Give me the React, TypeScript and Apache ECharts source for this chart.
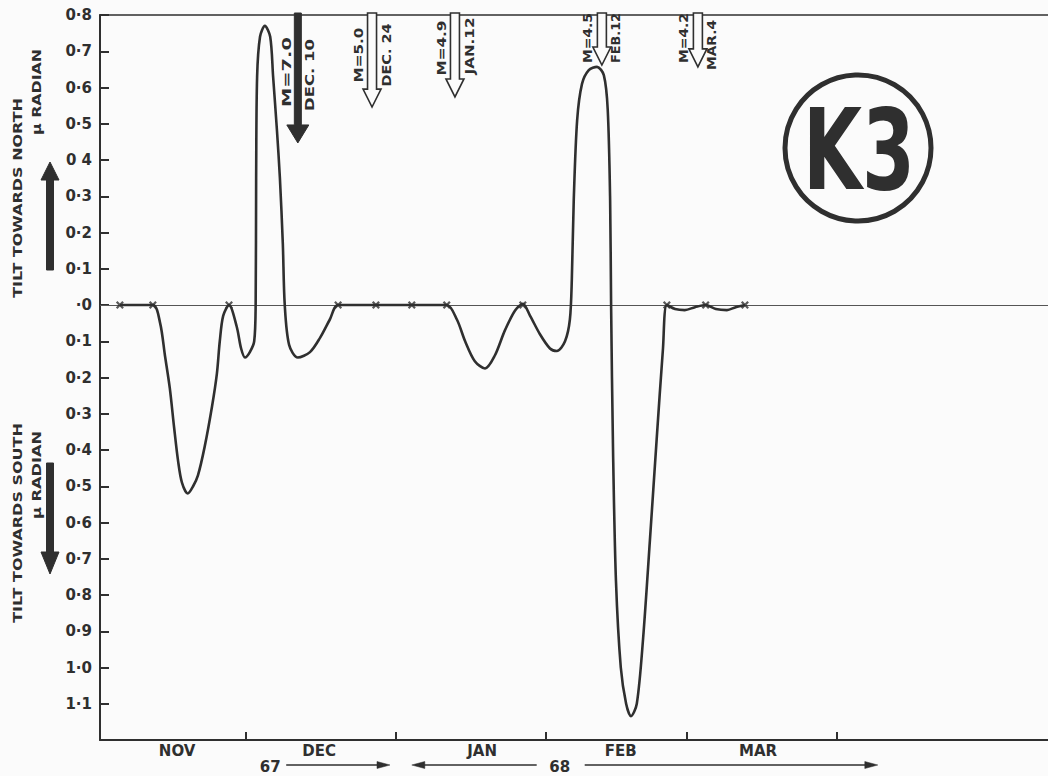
import React, { useEffect, useRef } from "react";
import * as echarts from "echarts";

// ---------- data (x in days since 1 Nov 1967, y in micro-radian; + north, - south) ----------
const X_MAX_DAYS = 195.5;
const monthTickDays = [30, 61, 92, 121, 152];
const monthLabels = ["NOV", "DEC", "JAN", "FEB", "MAR"];
const monthLabelDays = [15.9, 45.2, 78.8, 107.4, 135.7];
const yTickLabels = [
  "0·8", "0·7", "0·6", "0·5", "0 4", "0·3", "0·2", "0·1", "·0",
  "0·1", "0·2", "0·3", "0·4", "0·5", "0·6", "0·7", "0·8", "0·9", "1·0", "1·1", "",
];

const curveDays = [
  4.1, 10.9, 12.4, 13.4, 14.4, 15.3, 16.1, 16.9, 18.1, 19.2, 20.2, 21.6, 23.1, 24.1, 24.7, 25.4,
  26.6, 28.2, 29.1, 29.9, 30.9, 31.8, 32.1, 32.2, 32.4, 33.0, 34.0, 35.1, 35.7, 36.5, 37.1, 37.7,
  38.1, 39.0, 40.8, 43.3, 45.4, 47.4, 49.1, 56.9, 64.3, 71.5, 73.6, 75.3, 77.3, 79.4, 81.4, 83.5,
  85.6, 87.2, 88.7, 90.7, 92.8, 94.2, 95.9, 96.9, 97.3, 97.7, 98.4, 99.4, 100.8, 102.5, 103.9,
  104.7, 105.2, 105.4, 105.8, 106.4, 107.4, 108.5, 109.5, 110.7, 112.0, 113.4, 114.8, 116.1,
  116.9, 118.6, 120.6, 122.7, 124.9, 127.0, 129.3, 131.1, 133.0,
];
const curveValues = [
  0, 0, -0.05, -0.14, -0.23, -0.34, -0.43, -0.49, -0.52, -0.5, -0.47, -0.39, -0.28, -0.19, -0.1, -0.03,
  0, -0.06, -0.12, -0.145, -0.13, -0.1, 0, 0.35, 0.63, 0.74, 0.77, 0.74, 0.63, 0.48, 0.35, 0.17,
  0, -0.11, -0.145, -0.13, -0.09, -0.04, 0, 0, 0, 0, -0.04, -0.1, -0.155, -0.175, -0.14, -0.07,
  -0.015, 0.003, -0.03, -0.08, -0.12, -0.127, -0.1, -0.04, 0.07, 0.29, 0.51, 0.61, 0.648, 0.657, 0.634,
  0.54, 0.29, 0, -0.4, -0.76, -1.0, -1.1, -1.134, -1.1, -0.92, -0.65, -0.37,
  -0.12, 0, -0.011, -0.014, -0.006, 0, -0.011, -0.014, -0.006, 0,
];
const zeroMarkDays = [4.1, 10.9, 26.6, 49.1, 56.9, 64.3, 71.5, 87.2, 116.9, 124.9, 133.0];

const quakeDays = [40.8, 56.1, 73.2, 103.5, 123.3];
const quakeMagnitudes = ["M=7.0", "M=5.0", "M=4.9", "M=4.5", "M=4.2"];
const quakeDates = ["DEC. 10", "DEC. 24", "JAN.12", "FEB.12", "MAR.4"];
const quakeTipValues = [0.447, 0.546, 0.574, 0.662, 0.657];

const yearLabels = ["67", "68"];
const yearLabelDays = [35.1, 94.8];

// ---------- styling / layout ----------
const FONT = '"DejaVu Sans", sans-serif';
const INK = "#2f2f2f";
const PAPER = "#fbfbfb";

function textWidth(text: string, size: number): number {
  const ctx = document.createElement("canvas").getContext("2d");
  if (!ctx) return text.length * size * 0.65;
  ctx.font = `bold ${size}px "DejaVu Sans"`;
  return ctx.measureText(text).width || text.length * size * 0.65;
}

function vText(text: string, cx: number, cy: number, size: number, length: number) {
  const w = textWidth(text, size);
  return {
    type: "text",
    x: cx,
    y: cy,
    rotation: Math.PI / 2,
    scaleX: length / w,
    z: 20,
    style: { text, fontSize: size, fontWeight: "bold", fontFamily: FONT, fill: INK, align: "center", verticalAlign: "middle" },
  };
}

function hText(text: string, cx: number, cy: number, size: number) {
  return {
    type: "text",
    x: cx,
    y: cy,
    z: 20,
    style: { text, fontSize: size, fontWeight: "bold", fontFamily: FONT, fill: INK, align: "center", verticalAlign: "middle" },
  };
}

function vArrow(x: number, tail: number, tip: number, shaftHalf: number, headHalf: number, headLen: number, filled: boolean) {
  const dir = tip > tail ? 1 : -1;
  const hb = tip - dir * headLen;
  return {
    type: "polygon",
    z: 15,
    shape: {
      points: [
        [x - shaftHalf, tail], [x + shaftHalf, tail], [x + shaftHalf, hb], [x + headHalf, hb],
        [x, tip], [x - headHalf, hb], [x - shaftHalf, hb],
      ],
    },
    style: filled ? { fill: INK, stroke: INK, lineWidth: 1 } : { fill: PAPER, stroke: INK, lineWidth: 1.6 },
  };
}

function hArrow(x1: number, x2: number, y: number) {
  const dir = x2 > x1 ? 1 : -1;
  return [
    { type: "line", z: 15, shape: { x1, y1: y, x2: x2 - dir * 10, y2: y }, style: { stroke: INK, lineWidth: 1.6 } },
    {
      type: "polygon",
      z: 15,
      shape: { points: [[x2, y], [x2 - dir * 13, y - 3.5], [x2 - dir * 13, y + 3.5]] },
      style: { fill: INK, stroke: INK, lineWidth: 0.5 },
    },
  ];
}

const CROSS = "path://M2,0 L5,3 L8,0 L10,2 L7,5 L10,8 L8,10 L5,7 L2,10 L0,8 L3,5 L0,2 Z";

export default function App() {
  const ref = useRef<HTMLDivElement>(null);

  useEffect(() => {
    if (!ref.current) return;
    const chart = echarts.init(ref.current, null, { renderer: "svg" });

    chart.setOption({
      animation: false,
      backgroundColor: PAPER,
      grid: { left: 100, right: 0, top: 15, bottom: 36, containLabel: false },
      xAxis: [
        {
          type: "value",
          min: 0,
          max: X_MAX_DAYS,
          position: "bottom",
          splitLine: { show: false },
          axisLine: { show: true, onZero: false, lineStyle: { color: INK, width: 2 } },
          axisTick: { show: true, inside: true, length: 8, customValues: monthTickDays, lineStyle: { color: INK, width: 2 } },
          axisLabel: {
            show: true,
            customValues: monthLabelDays,
            formatter: (v: number) => {
              const i = monthLabelDays.findIndex((d) => Math.abs(d - v) < 1e-6);
              return i >= 0 ? monthLabels[i] : "";
            },
            color: INK,
            fontFamily: FONT,
            fontWeight: "bold",
            fontSize: 15,
            margin: 3,
          },
        },
        {
          type: "value",
          min: 0,
          max: X_MAX_DAYS,
          position: "top",
          splitLine: { show: false },
          axisLine: { show: true, onZero: false, lineStyle: { color: INK, width: 1.6 } },
          axisTick: { show: false },
          axisLabel: { show: false },
        },
      ],
      yAxis: {
        type: "value",
        min: -1.2,
        max: 0.8,
        interval: 0.1,
        splitLine: { show: false },
        axisLine: { show: true, lineStyle: { color: INK, width: 2 } },
        axisTick: { show: true, inside: true, length: 9, lineStyle: { color: INK, width: 2 } },
        axisLabel: {
          formatter: (v: number) => yTickLabels[Math.round((0.8 - v) * 10)] ?? "",
          color: INK,
          fontFamily: FONT,
          fontWeight: "bold",
          fontSize: 15,
          margin: 8,
        },
      },
      series: [
        {
          type: "line",
          data: curveDays.map((d, i) => [d, curveValues[i]]),
          smooth: 0.3,
          symbol: "none",
          lineStyle: { color: INK, width: 2.6 },
          z: 5,
          markLine: {
            silent: true,
            symbol: "none",
            label: { show: false },
            lineStyle: { color: "#555", width: 1, type: "solid" },
            data: [{ yAxis: 0 }],
          },
        },
        {
          type: "scatter",
          data: zeroMarkDays.map((d) => [d, 0]),
          symbol: CROSS,
          symbolSize: 8,
          itemStyle: { color: INK },
          z: 6,
        },
      ],
    });

    const px = (d: number, v: number) => chart.convertToPixel({ xAxisIndex: 0, yAxisIndex: 0 }, [d, v]) as number[];
    const topY = px(0, 0.8)[1];
    const g: any[] = [];

    // earthquake arrows
    const labelCenters = [
      [72, 75], [55, 55], [48, 46], [38, 38], [38, 45],
    ];
    const labelLengths = [
      [70, 72], [55, 63], [55, 57], [50, 50], [50, 50],
    ];
    quakeDays.forEach((d, i) => {
      const [x, tip] = px(d, quakeTipValues[i]);
      const filled = i === 0;
      g.push(filled ? vArrow(x, topY - 2, tip, 3.5, 11, 18, true) : vArrow(x, topY - 2, tip, 4.5, 9, 18, false));
      const off = filled ? 11 : 14;
      g.push(vText(quakeMagnitudes[i], x - off, labelCenters[i][0], 13, labelLengths[i][0]));
      g.push(vText(quakeDates[i], x + off, labelCenters[i][1], 13, labelLengths[i][1]));
    });

    // y-axis titles
    g.push(vText("TILT TOWARDS NORTH", 18, 198, 12, 200));
    g.push(vText("μ RADIAN", 37, 92, 12, 86));
    g.push(vArrow(50, 270, 162, 3.5, 9, 18, true));
    g.push(vText("TILT TOWARDS SOUTH", 18, 523, 12, 200));
    g.push(vText("μ RADIAN", 37, 475, 12, 88));
    g.push(vArrow(50, 463, 574, 3.5, 9, 22, true));

    // year row
    const yRow = 765;
    const [x67] = px(yearLabelDays[0], 0);
    const [x68] = px(yearLabelDays[1], 0);
    g.push(hText(yearLabels[0], x67, yRow + 2, 15));
    g.push(hText(yearLabels[1], x68, yRow + 2, 15));
    g.push(...hArrow(x67 + 16, px(59.8, 0)[0], yRow));
    g.push(...hArrow(x68 - 23, px(64.3, 0)[0], yRow));
    g.push(...hArrow(x68 + 25, px(160.4, 0)[0], yRow));

    // station badge
    g.push({ type: "circle", z: 20, shape: { cx: 858, cy: 148, r: 73 }, style: { fill: "none", stroke: INK, lineWidth: 5 } });
    const kw = textWidth("K3", 112);
    g.push({
      type: "text",
      x: 859,
      y: 150,
      scaleX: 112 / kw,
      z: 21,
      style: { text: "K3", fontSize: 112, fontWeight: "bold", fontFamily: FONT, fill: INK, align: "center", verticalAlign: "middle" },
    });

    chart.setOption({ graphic: g });

    return () => chart.dispose();
  }, []);

  return (
    <div
      ref={ref}
      style={{ position: "absolute", left: 0, top: 0, width: 1048, height: 776, background: PAPER }}
    />
  );
}
